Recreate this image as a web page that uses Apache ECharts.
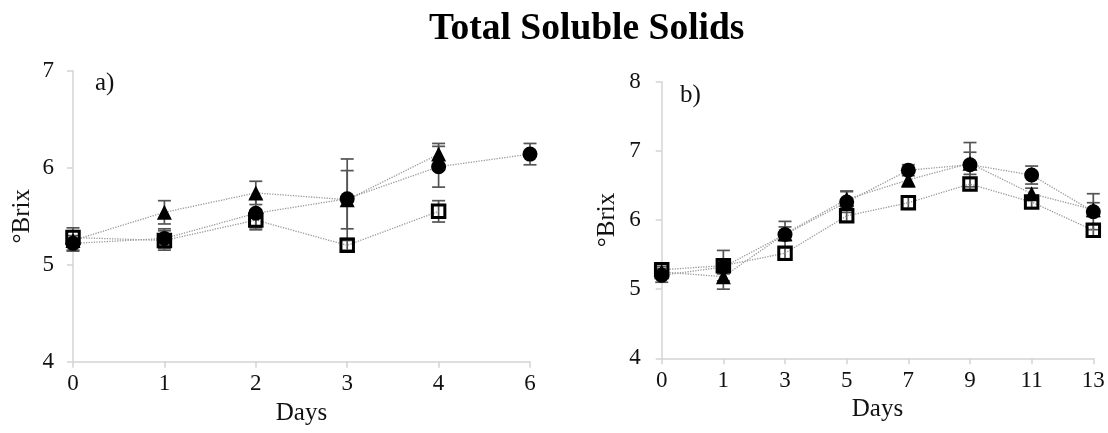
<!DOCTYPE html>
<html><head><meta charset="utf-8">
<script src="https://cdn.jsdelivr.net/npm/echarts@6/dist/echarts.min.js"></script>
<style>html,body{margin:0;padding:0;background:#fff}#c{width:1108px;height:433px}</style>
</head><body><div id="c"></div>
<script>
// Panel a)
const daysA = ['0','1','2','3','4','6'];
const circleA = [5.22,5.27,5.53,5.68,6.01,6.14];
const circleErrA = [0.08,0.10,0.15,0.41,0.21,0.11];
const triangleA = [5.25,5.54,5.74,5.67,6.14,null];
const triangleErrA = [0.10,0.12,0.12,0.30,0.11,null];
const squareA = [5.28,5.25,5.46,5.20,5.55,null];
const squareErrA = [0.10,0.10,0.10,0.05,0.11,null];
// Panel b)
const daysB = ['0','1','3','5','7','9','11','13'];
const circleB = [5.20,5.32,5.79,6.26,6.72,6.80,6.65,6.12];
const circleErrB = [0.10,0.10,0.19,0.15,0.08,0.32,0.13,0.26];
const triangleB = [5.25,5.18,5.80,6.30,6.58,6.82,6.38,6.15];
const triangleErrB = [0.08,0.18,0.10,0.12,0.10,0.16,0.08,0.10];
const squareB = [5.28,5.34,5.52,6.06,6.25,6.52,6.26,5.85];
const squareErrB = [0.10,0.22,0.08,0.08,0.08,0.08,0.08,0.08];

const FONT = 'Liberation Serif';

function errData(vals, errs){
  const out = [];
  vals.forEach((v,i)=>{ if(v!=null && errs[i]!=null) out.push([i, v-errs[i], v+errs[i]]); });
  return out;
}
function errItem(params, api){
  const x = api.value(0), lo = api.value(1), hi = api.value(2);
  const p1 = api.coord([x, hi]), p2 = api.coord([x, lo]);
  const w = 6.5;
  const style = {stroke:'#555', lineWidth:1.7, fill:null};
  return {type:'group', children:[
    {type:'line', shape:{x1:p1[0],y1:p1[1],x2:p2[0],y2:p2[1]}, style},
    {type:'line', shape:{x1:p1[0]-w,y1:p1[1],x2:p1[0]+w,y2:p1[1]}, style},
    {type:'line', shape:{x1:p2[0]-w,y1:p2[1],x2:p2[0]+w,y2:p2[1]}, style}
  ]};
}
function errSeries(vals, errs, idx){
  return {type:'custom', xAxisIndex:idx, yAxisIndex:idx, z:2, renderItem:errItem,
    encode:{x:0, y:[1,2]}, data:errData(vals, errs), silent:true};
}
const lineStyle = {color:'#9a9a9a', width:1.3, type:'dotted'};
function lineSeries(vals, idx, kind){
  const s = {type:'line', xAxisIndex:idx, yAxisIndex:idx, z:3, data:vals,
    lineStyle:lineStyle, showSymbol:true, connectNulls:false, silent:true, animation:false};
  if(kind==='circle'){ s.symbol='circle'; s.symbolSize=15; s.itemStyle={color:'#000', borderWidth:0}; }
  if(kind==='triangle'){ s.symbol='triangle'; s.symbolSize=15; s.itemStyle={color:'#000', borderWidth:0}; }
  if(kind==='square'){ s.symbol='rect'; s.symbolSize=12.5; s.itemStyle={color:'rgba(0,0,0,0)', borderColor:'#000', borderWidth:3}; }
  return s;
}
const axisGray = '#d4d4d4';
function xAxis(idx, cats){
  return {type:'category', gridIndex:idx, data:cats, boundaryGap:false,
    name:'Days', nameLocation:'middle', nameGap:34,
    nameTextStyle:{fontFamily:FONT, fontSize:25, color:'#111'},
    axisLine:{lineStyle:{color:axisGray, width:1.5}},
    axisTick:{show:true, alignWithLabel:true, length:6, lineStyle:{color:axisGray, width:1.5}},
    axisLabel:{fontFamily:FONT, fontSize:23, color:'#111', margin:11},
    splitLine:{show:false}};
}
function yAxis(idx, min, max, gap, margin){
  return {type:'value', gridIndex:idx, min:min, max:max, interval:1,
    name:'°Brix', nameLocation:'middle', nameGap:gap, nameRotate:90,
    nameTextStyle:{fontFamily:FONT, fontSize:25, color:'#111'},
    axisLine:{show:true, lineStyle:{color:axisGray, width:1.5}},
    axisTick:{show:true, length:6, lineStyle:{color:axisGray, width:1.5}},
    axisLabel:{fontFamily:FONT, fontSize:23, color:'#111', margin:margin},
    splitLine:{show:false}};
}

const chart = echarts.init(document.getElementById('c'), null, {renderer:'canvas'});
chart.setOption({
  animation:false,
  backgroundColor:'#fff',
  title:[
    {text:'Total Soluble Solids', left:424, top:5,
      textStyle:{fontFamily:FONT, fontSize:37.5, fontWeight:'bold', color:'#000'}},
    {text:'a)', left:90, top:66, textStyle:{fontFamily:FONT, fontSize:25, fontWeight:'normal', color:'#111'}},
    {text:'b)', left:675, top:78, textStyle:{fontFamily:FONT, fontSize:25, fontWeight:'normal', color:'#111'}}
  ],
  grid:[
    {left:73, right:578, top:70.7, bottom:71.3, containLabel:false},
    {left:661.7, right:14.7, top:81.7, bottom:74.7, containLabel:false}
  ],
  xAxis:[xAxis(0, daysA), xAxis(1, daysB)],
  yAxis:[yAxis(0, 4, 7, 38, 19), yAxis(1, 4, 8, 42, 21)],
  series:[
    errSeries(circleA, circleErrA, 0),
    errSeries(triangleA, triangleErrA, 0),
    errSeries(squareA, squareErrA, 0),
    lineSeries(squareA, 0, 'square'),
    lineSeries(triangleA, 0, 'triangle'),
    lineSeries(circleA, 0, 'circle'),
    errSeries(circleB, circleErrB, 1),
    errSeries(triangleB, triangleErrB, 1),
    errSeries(squareB, squareErrB, 1),
    lineSeries(squareB, 1, 'square'),
    lineSeries(triangleB, 1, 'triangle'),
    lineSeries(circleB, 1, 'circle')
  ]
});
</script></body></html>
